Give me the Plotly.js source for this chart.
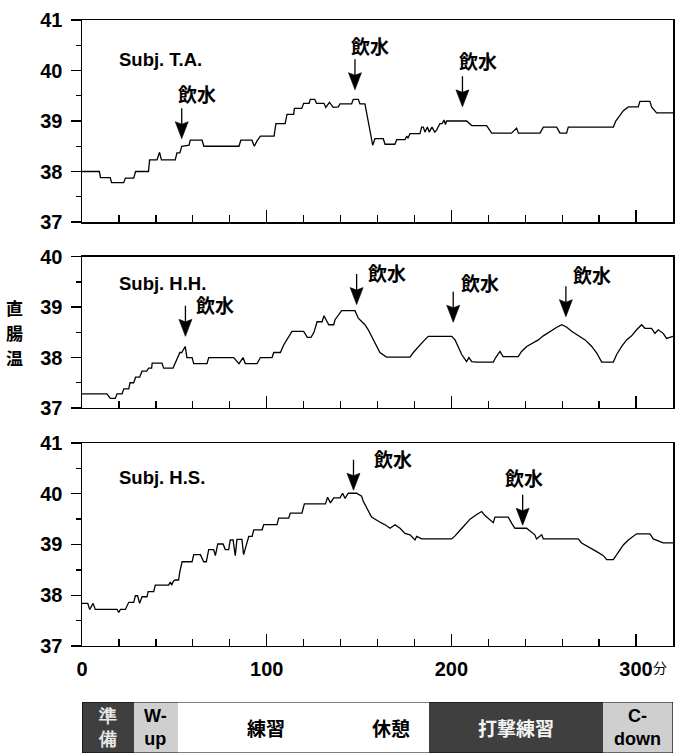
<!DOCTYPE html>
<html>
<head>
<meta charset="utf-8">
<script src="https://cdn.plot.ly/plotly-3.0.1.min.js"></script>
<style>
  html, body { margin: 0; padding: 0; background: #fff; }
  #chart { width: 676px; height: 753px; }
</style>
</head>
<body>
<div id="chart"></div>
<script>
// Rectal temperature (°C) against elapsed time (min) for three subjects
const minutesTA = [0,9.4,10,15.3,16,22.6,23.5,28,29,36,36.6,40.6,42,43,50.5,51.4,53,54,58,58.6,65,66,85,86,92,93.3,94.7,96.6,104,105,110,111,114.6,115,119,120,123,123.6,126,127,131,132,134,136,138.8,139.7,146,146.9,149.6,150.5,153.2,157.4,158.6,163.1,164.1,169.4,170.4,174.9,175.8,176.5,177.6,183,183.9,184.8,185.7,187,188,189.5,191,192,193.8,195,196,196.8,197.4,208.3,211,219.1,221.8,232.6,235.3,236.3,248,249.8,257,258.8,262.4,263.3,287.7,289,291.3,293,295.8,301.2,302.1,307.5,308.4,311.1,320];
const tempTA = [38.0,38.0,37.88,37.88,37.78,37.78,37.87,37.87,38.0,38.0,38.23,38.23,38.38,38.23,38.23,38.37,38.37,38.5,38.52,38.62,38.62,38.5,38.5,38.62,38.62,38.5,38.6,38.7,38.7,38.95,38.95,39.13,39.13,39.25,39.25,39.35,39.35,39.43,39.43,39.35,39.35,39.27,39.37,39.27,39.28,39.34,39.34,39.43,39.43,39.34,39.34,38.52,38.65,38.65,38.54,38.54,38.63,38.63,38.7,38.66,38.75,38.75,38.88,38.88,38.78,38.88,38.78,38.88,38.78,38.82,38.95,38.95,39.02,38.93,39.0,39.0,38.91,38.91,38.76,38.76,38.86,38.76,38.76,38.88,38.88,38.76,38.76,38.88,38.88,39.0,39.11,39.2,39.28,39.28,39.39,39.39,39.28,39.16,39.16];

const minutesHH = [0,13.5,15.3,18,19,21.7,22.6,25.3,26,28,29,31.2,32.5,35,36.1,37.7,38,43.3,44.2,49.3,50.5,53,54,55.9,56.8,59.6,60.5,67.7,68.6,82.1,85,87.2,88.4,94.8,96.6,102.9,103.8,107.4,109.2,111,113.7,120,122,124,125.6,127.3,130,131,133.6,136.3,137,140.6,147.8,149.6,151.4,153.2,155,156.8,158.6,161.3,164.9,177.6,179.4,182.2,184.8,187.5,200.2,202,203.8,205.6,208.2,209.5,211,213.7,222.7,224,226.3,228,236.2,238,240.8,244.4,247.1,249.8,253.4,257.1,259.8,262.5,265.1,268.8,272.4,276,278.7,281.4,287.7,289.5,292.2,294.9,297.6,300.3,303,304.8,308.4,310.2,312,314.7,316.5,320];
const tempHH = [37.28,37.28,37.19,37.19,37.28,37.28,37.38,37.38,37.5,37.5,37.61,37.61,37.73,37.73,37.79,37.79,37.89,37.89,37.79,37.79,37.89,38.1,38.1,38.22,38.0,38.0,37.88,37.88,38.0,38.0,37.88,38.0,37.88,37.88,38.0,38.0,38.1,38.1,38.25,38.35,38.52,38.52,38.4,38.4,38.5,38.71,38.71,38.83,38.65,38.65,38.75,38.93,38.93,38.78,38.71,38.65,38.55,38.42,38.29,38.1,38.01,38.01,38.1,38.22,38.32,38.42,38.42,38.35,38.19,38.06,37.92,38.0,37.92,37.91,37.91,38.0,38.12,38.02,38.02,38.12,38.22,38.29,38.35,38.43,38.52,38.6,38.65,38.6,38.52,38.43,38.35,38.22,38.09,37.91,37.91,38.06,38.22,38.35,38.43,38.55,38.65,38.58,38.58,38.48,38.55,38.48,38.38,38.42];

const minutesHS = [0,3.1,4.2,6,7.2,19,19.9,20.8,23.5,25.3,28,28.9,30.1,31.2,32.5,35.2,35.8,38.8,39.7,46.9,47.8,48.5,49.6,50.5,52.3,52.9,54.2,59.6,60.5,64.1,65.9,67.3,68.6,71.3,72.2,73.5,76.4,77.6,79.4,80.3,81.8,83,83.9,86.6,87.5,90.3,92.1,93,97.5,98.4,105.6,106.5,111.9,112.8,119.1,120.4,131.8,133,134.5,136.3,139.7,141.1,142.4,144.2,148.7,151.4,152.3,154.1,156.8,162.3,164.1,166.8,169.5,172.2,174.9,177.6,180.3,181.2,183.9,200.1,202,204.7,207.4,210.1,213.7,216.4,218.2,220.9,222.7,223.6,230.8,232.6,234.4,240.7,242.5,245.2,246.1,248.9,249.8,268.7,270.5,274.1,278.7,282.3,284.1,287.7,289.5,293.1,295.8,300.3,307.5,309.3,314.7,320];
const tempHS = [37.84,37.84,37.72,37.84,37.72,37.72,37.66,37.72,37.72,37.86,37.86,37.99,37.99,37.84,37.97,37.97,38.07,38.07,38.2,38.2,38.26,38.2,38.28,38.3,38.3,38.45,38.66,38.66,38.8,38.8,38.66,38.66,38.9,38.9,38.78,39.01,39.01,38.9,38.9,39.09,39.09,38.78,39.1,39.1,38.8,39.16,39.16,39.29,39.29,39.39,39.39,39.52,39.52,39.62,39.62,39.8,39.8,39.93,39.82,39.92,39.92,40.01,39.91,40.01,40.01,39.95,39.85,39.72,39.54,39.42,39.39,39.32,39.39,39.32,39.22,39.19,39.09,39.16,39.11,39.11,39.17,39.28,39.39,39.5,39.59,39.65,39.57,39.49,39.43,39.54,39.54,39.42,39.32,39.32,39.26,39.19,39.11,39.19,39.11,39.11,39.03,38.96,38.86,38.78,38.7,38.7,38.8,38.99,39.09,39.21,39.21,39.11,39.03,39.03];

// Water intake (飲水) events: time (min) and the temperature the arrow points at
const drinkMinTA = [54, 147.8, 206];
const drinkTempTA = [38.65, 39.62, 39.28];
const drinkMinHH = [56, 148.7, 201, 262];
const drinkTempHH = [38.42, 39.05, 38.7, 38.81];
const drinkMinHS = [147, 238.6];
const drinkTempHS = [40.07, 39.38];

const subjects = ['Subj. T.A.', 'Subj. H.H.', 'Subj. H.S.'];
const drinkLabel = '飲水';
const yTitle = '直腸温';
const xTickVals = [0, 100, 200, 300];
const xTickText = ['0', '100', '200', '300'];
const xUnit = '分';

// Session schedule along the same time axis
const phaseLabels = ['準<br>備', 'W-<br>up', '練習', '休憩', '打撃練習', 'C-<br>down'];
const phaseStart = [0, 28, 52, 147, 188, 282];
const phaseEnd = [28, 52, 147, 188, 282, 320];

// ---- styling ----
const DARK = '#3f3f3f', LIGHT = '#cfcfcf', WHITE = '#ffffff';
const phaseFill = [DARK, LIGHT, WHITE, WHITE, DARK, LIGHT];
const phaseInk = ['#e6e6e6', '#000', '#000', '#000', '#f2f2f2', '#000'];

const LATIN = 'Liberation Sans, Arial, Helvetica, sans-serif';
const CJK = 'Noto Sans CJK JP, Noto Sans CJK SC, sans-serif';

function tempTrace(x, y, ax) {
  return {
    type: 'scatter', mode: 'lines', x: x, y: y,
    xaxis: ax[0], yaxis: ax[1],
    line: { color: '#000', width: 1.3, shape: 'linear' },
    hoverinfo: 'skip'
  };
}

const traces = [
  tempTrace(minutesTA, tempTA, ['x', 'y']),
  tempTrace(minutesHH, tempHH, ['x2', 'y2']),
  tempTrace(minutesHS, tempHS, ['x3', 'y3']),
  {
    type: 'bar', orientation: 'h',
    y: phaseLabels.map(() => 0),
    base: phaseStart,
    x: phaseStart.map((s, i) => phaseEnd[i] - s),
    width: 1,
    marker: { color: phaseFill, line: { width: 0 } },
    xaxis: 'x4', yaxis: 'y4', hoverinfo: 'skip'
  }
];

function xAxis(anchor, showLabels) {
  return {
    anchor: anchor, domain: [0, 1], range: [0, 320],
    showline: true, linecolor: '#000', linewidth: 1.5, mirror: true,
    ticks: 'inside', ticklen: 12, tickwidth: 1.3, tickcolor: '#000',
    tickmode: 'array', tickvals: xTickVals, ticktext: xTickText,
    minor: { dtick: 20, tick0: 0, ticks: 'inside', ticklen: 7, tickwidth: 1.3, tickcolor: '#000' },
    showticklabels: showLabels,
    tickfont: { family: LATIN, size: 20, color: '#000', weight: 'bold' },
    ticklabelstandoff: 5,
    showgrid: false, zeroline: false
  };
}

function yAxis(anchor, domain, range) {
  return {
    anchor: anchor, domain: domain, range: range,
    showline: true, linecolor: '#000', linewidth: 1.5, mirror: true,
    ticks: 'outside', ticklen: 10, tickwidth: 1.3, tickcolor: '#000',
    dtick: 1, tick0: 37,
    minor: { dtick: 0.5, ticks: 'outside', ticklen: 5, tickwidth: 1.3, tickcolor: '#000' },
    tickfont: { family: LATIN, size: 20, color: '#000', weight: 'bold' },
    ticklabelstandoff: 4,
    showgrid: false, zeroline: false
  };
}

const annotations = [];
const shapes = [];

// subject labels
[['x', 'y', 40.22], ['x2', 'y2', 39.47], ['x3', 'y3', 40.33]].forEach((a, i) => {
  annotations.push({
    xref: a[0], yref: a[1], x: 19, y: a[2], xanchor: 'left', yanchor: 'middle',
    text: subjects[i], showarrow: false,
    font: { family: LATIN, size: 18.5, color: '#000', weight: 'bold' }
  });
});

// water intake arrows: stem, solid head, and label offset (px)
function drinkMarks(times, temps, xr, yr, offsets) {
  times.forEach((t, i) => {
    annotations.push({
      xref: xr, yref: yr, x: t, y: temps[i], ax: 0, ay: -32,
      text: '', showarrow: true, arrowhead: 0, arrowwidth: 1.3,
      arrowcolor: '#000', standoff: 4, startstandoff: 0
    });
    shapes.push({
      type: 'path', xref: xr, yref: yr,
      xsizemode: 'pixel', ysizemode: 'pixel', xanchor: t, yanchor: temps[i],
      path: 'M0,0 L-6.5,17 L0,14.5 L6.5,17 Z',
      fillcolor: '#000', line: { color: '#000', width: 0.6 }
    });
    annotations.push({
      xref: xr, yref: yr, x: t, y: temps[i],
      xshift: offsets[i][0], yshift: offsets[i][1],
      text: drinkLabel, showarrow: false, xanchor: 'center', yanchor: 'middle',
      font: { family: CJK, size: 19, color: '#000', weight: 'bold' }
    });
  });
}
drinkMarks(drinkMinTA, drinkTempTA, 'x', 'y', [[15, 45], [15, 44], [16, 46]]);
drinkMarks(drinkMinHH, drinkTempHH, 'x2', 'y2', [[30, 32], [30, 32], [27, 40], [26, 42]]);
drinkMarks(drinkMinHS, drinkTempHS, 'x3', 'y3', [[40, 32], [1, 48]]);

// vertical y title, one character per line
Array.from(yTitle).forEach((ch, i) => {
  annotations.push({
    xref: 'paper', yref: 'paper', x: -0.115, y: 0.573, yshift: (1 - i) * 25,
    xanchor: 'center', yanchor: 'middle', text: ch, showarrow: false,
    font: { family: CJK, size: 17, color: '#000', weight: 'bold' }
  });
});

// unit after the last tick label
annotations.push({
  xref: 'x3', yref: 'paper', x: 313, y: 0.1175, xanchor: 'center', yanchor: 'middle',
  text: xUnit, showarrow: false,
  font: { family: CJK, size: 14, color: '#000' }
});

// schedule labels
phaseLabels.forEach((lab, i) => {
  const twoLine = lab.indexOf('<br>') >= 0;
  annotations.push({
    xref: 'x4', yref: 'y4', x: (phaseStart[i] + phaseEnd[i]) / 2, y: 0,
    xanchor: 'center', yanchor: 'middle', text: lab, showarrow: false,
    font: {
      family: /[A-Za-z]/.test(lab) ? LATIN : CJK,
      size: twoLine ? 18 : 19, color: phaseInk[i], weight: 'bold'
    }
  });
});

shapes.push({
  type: 'rect', xref: 'x4', yref: 'y4', x0: 0, x1: 320, y0: -0.5, y1: 0.5,
  line: { color: '#000', width: 1.2 }, fillcolor: 'rgba(0,0,0,0)'
});

const layout = {
  width: 676, height: 753,
  margin: { l: 82, r: 3, t: 20, b: 0 },
  paper_bgcolor: '#fff', plot_bgcolor: 'rgba(0,0,0,0)',
  showlegend: false,
  font: { family: LATIN, color: '#000' },
  bargap: 0,
  xaxis: xAxis('y', false),
  xaxis2: xAxis('y2', false),
  xaxis3: xAxis('y3', true),
  yaxis: yAxis('x', [0.7244, 1], [37, 41]),
  yaxis2: yAxis('x2', [0.4707, 0.6771], [37, 40]),
  yaxis3: yAxis('x3', [0.146, 0.4229], [37, 41]),
  xaxis4: { anchor: 'y4', domain: [0, 1], range: [0, 320], visible: false, fixedrange: true },
  yaxis4: { anchor: 'x4', domain: [0, 0.0696], range: [-0.5, 0.5], visible: false, fixedrange: true },
  shapes: shapes,
  annotations: annotations
};

Plotly.newPlot('chart', traces, layout, { displayModeBar: false, staticPlot: true });
</script>
</body>
</html>
